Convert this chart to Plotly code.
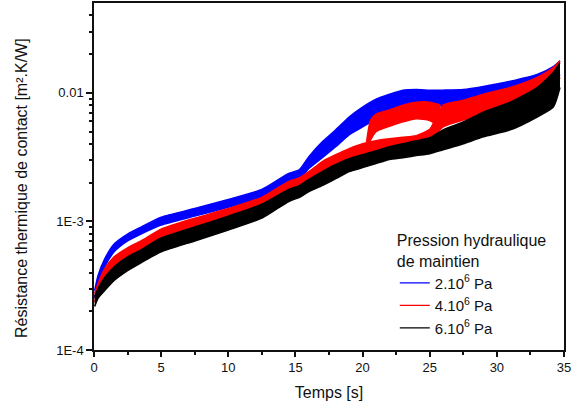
import numpy as np
import plotly.graph_objects as go

# time grid [s]
t = [0.05, 0.3, 0.8, 1.5, 2.5, 3.5, 5, 7.5, 10, 12.5, 14.5, 15.3, 16, 17, 18, 19, 20,
     21, 22, 23, 24, 25, 26, 27.5, 29, 31, 33, 34.2, 34.7]

# contact resistance envelopes [m2.K/W], lower / upper edge of each measured band
blue_lo = [2.52e-4, 3.17e-4, 4.44e-4, 5.80e-4, 7.05e-4, 7.98e-4, 9.37e-4, 1.10e-3, 1.29e-3, 1.54e-3,
           1.98e-3, 2.12e-3, 2.58e-3, 3.13e-3, 3.81e-3, 4.71e-3, 5.43e-3, 6.26e-3, 7.09e-3, 7.75e-3,
           8.03e-3, 8.03e-3, 7.89e-3, 8.03e-3, 8.46e-3, 9.25e-3, 1.05e-2, 1.21e-2, 1.39e-2]
blue_hi = [2.90e-4, 3.79e-4, 5.12e-4, 6.68e-4, 7.98e-4, 9.04e-4, 1.08e-3, 1.26e-3, 1.48e-3, 1.77e-3,
           2.36e-3, 2.53e-3, 3.19e-3, 4.16e-3, 5.15e-3, 6.49e-3, 7.75e-3, 8.93e-3, 9.75e-3, 1.05e-2,
           1.06e-2, 1.05e-2, 1.05e-2, 1.06e-2, 1.12e-2, 1.23e-2, 1.39e-2, 1.60e-2, 1.78e-2]

red_lo = [2.35e-4, 2.75e-4, 3.47e-4, 4.36e-4, 5.21e-4, 5.90e-4, 7.30e-4, 8.72e-4, 1.04e-3, 1.26e-3,
          1.65e-3, 1.77e-3, 1.98e-3, 2.36e-3, 2.67e-3, 3.03e-3, 3.25e-3, 3.48e-3, 3.68e-3, 3.85e-3,
          3.98e-3, 4.30e-3, 5.43e-3, 6.14e-3, 6.72e-3, 7.75e-3, 9.25e-3, 1.05e-2, 1.32e-2]
red_hi = [2.75e-4, 3.28e-4, 4.29e-4, 5.30e-4, 6.23e-4, 7.05e-4, 8.72e-4, 1.06e-3, 1.26e-3, 1.54e-3,
          2.05e-3, 2.19e-3, 2.44e-3, 2.92e-3, 3.30e-3, 3.68e-3, 4.02e-3, 4.25e-3, 4.40e-3, 4.52e-3,
          4.65e-3, 5.20e-3, 8.03e-3, 8.76e-3, 9.75e-3, 1.10e-2, 1.32e-2, 1.57e-2, 1.78e-2]

# second 4.10^6 Pa run, which jumps up around 20 s
t_red2 = [20.3, 20.6, 21, 22, 23, 24, 25, 25.8]
red2_lo = [3.48e-3, 4.30e-3, 5.00e-3, 5.50e-3, 5.95e-3, 6.30e-3, 6.10e-3, 5.43e-3]
red2_hi = [4.16e-3, 6.14e-3, 6.84e-3, 7.35e-3, 8.03e-3, 8.46e-3, 8.46e-3, 8.03e-3]

black_lo = [2.18e-4, 2.52e-4, 2.90e-4, 3.47e-4, 4.14e-4, 4.77e-4, 5.80e-4, 7.05e-4, 8.57e-4, 1.06e-3,
            1.43e-3, 1.54e-3, 1.71e-3, 1.90e-3, 2.15e-3, 2.44e-3, 2.62e-3, 2.82e-3, 3.03e-3, 3.13e-3,
            3.25e-3, 3.36e-3, 3.61e-3, 4.02e-3, 4.55e-3, 5.15e-3, 6.49e-3, 7.75e-3, 1.10e-2]
black_hi = [2.60e-4, 3.00e-4, 3.66e-4, 4.44e-4, 5.30e-4, 6.01e-4, 7.43e-4, 9.04e-4, 1.10e-3, 1.36e-3,
            1.77e-3, 1.90e-3, 2.12e-3, 2.44e-3, 2.77e-3, 3.08e-3, 3.30e-3, 3.54e-3, 3.81e-3, 4.02e-3,
            4.24e-3, 4.47e-3, 5.15e-3, 5.93e-3, 7.09e-3, 8.46e-3, 1.10e-2, 1.44e-2, 1.72e-2]

series_names = ['2.10<sup>6</sup> Pa', '4.10<sup>6</sup> Pa', '6.10<sup>6</sup> Pa']
series_colors = ['#0000FF', '#FF0000', '#000000']

ytickvals = [1e-4, 1e-3, 1e-2]
yticktext = ['1E-4', '1E-3', '0.01']

font_family = 'Arial, Liberation Sans, sans-serif'


def add_band(fig, x, lo, hi, color):
    fig.add_trace(go.Scatter(x=x, y=lo, mode='lines',
                             line={'color': color, 'width': 1.5, 'shape': 'spline', 'smoothing': 0.6},
                             showlegend=False, hoverinfo='skip'))
    fig.add_trace(go.Scatter(x=x, y=hi, mode='lines', fill='tonexty', fillcolor=color,
                             line={'color': color, 'width': 1.5, 'shape': 'spline', 'smoothing': 0.6},
                             showlegend=False, hoverinfo='skip'))


fig = go.Figure()
add_band(fig, t, blue_lo, blue_hi, series_colors[0])
add_band(fig, t, red_lo, red_hi, series_colors[1])
add_band(fig, t_red2, red2_lo, red2_hi, series_colors[1])
add_band(fig, t, black_lo, black_hi, series_colors[2])

# legend entries: plain thin lines like the original
for name, color in zip(series_names, series_colors):
    fig.add_trace(go.Scatter(x=[None], y=[None], mode='lines', name=name,
                             line={'color': color, 'width': 1.2}))

minor_y = [m * 10 ** e for e in (-4, -3, -2) for m in range(2, 10) if m * 10 ** e < 0.05]

fig.update_layout(
    width=577, height=409,
    template='plotly_white',
    plot_bgcolor='white', paper_bgcolor='white',
    margin={'l': 94, 'r': 13, 't': 1, 'b': 59},
    font={'family': font_family, 'color': '#111', 'size': 13},
    legend={'title': {'text': 'Pression hydraulique<br>de maintien', 'font': {'size': 16}},
            'font': {'size': 15},
            'traceorder': 'normal',
            'x': 0.64, 'xanchor': 'left',
            'y': 0.36, 'yanchor': 'top',
            'bgcolor': 'rgba(0,0,0,0)',
            'tracegroupgap': 0},
    xaxis={'range': [0, 35], 'dtick': 5, 'tick0': 0,
           'title': {'text': 'Temps [s]', 'font': {'size': 16}, 'standoff': 12},
           'showgrid': False, 'zeroline': False,
           'showline': True, 'linecolor': '#111', 'linewidth': 1.5, 'mirror': True,
           'ticks': 'outside', 'ticklen': 5, 'tickwidth': 1.5, 'tickcolor': '#111',
           'minor': {'dtick': 2.5, 'ticks': 'outside', 'ticklen': 3, 'tickwidth': 1.5,
                     'tickcolor': '#111', 'showgrid': False}},
    yaxis={'type': 'log', 'range': [-4, np.log10(0.05)],
           'tickmode': 'array', 'tickvals': ytickvals, 'ticktext': yticktext,
           'showgrid': False, 'zeroline': False,
           'showline': True, 'linecolor': '#111', 'linewidth': 1.5, 'mirror': True,
           'ticks': 'outside', 'ticklen': 6, 'tickwidth': 1.5, 'tickcolor': '#111',
           'minor': {'tickmode': 'array', 'tickvals': minor_y, 'ticks': 'outside', 'ticklen': 3,
                     'tickwidth': 1.5, 'tickcolor': '#111', 'showgrid': False}},
    showlegend=True,
)

fig.add_annotation(text='Résistance thermique de contact [m².K/W]',
                   font={'size': 16},
                   textangle=-90, showarrow=False,
                   xref='paper', x=-0.153, xanchor='center',
                   yref='paper', y=0.467, yanchor='middle')

# drop the browser's default page margin so the figure sits at the window corner
fig.write_html('out.html', config={'displayModeBar': False},
               post_script="document.body.style.margin='0';")
